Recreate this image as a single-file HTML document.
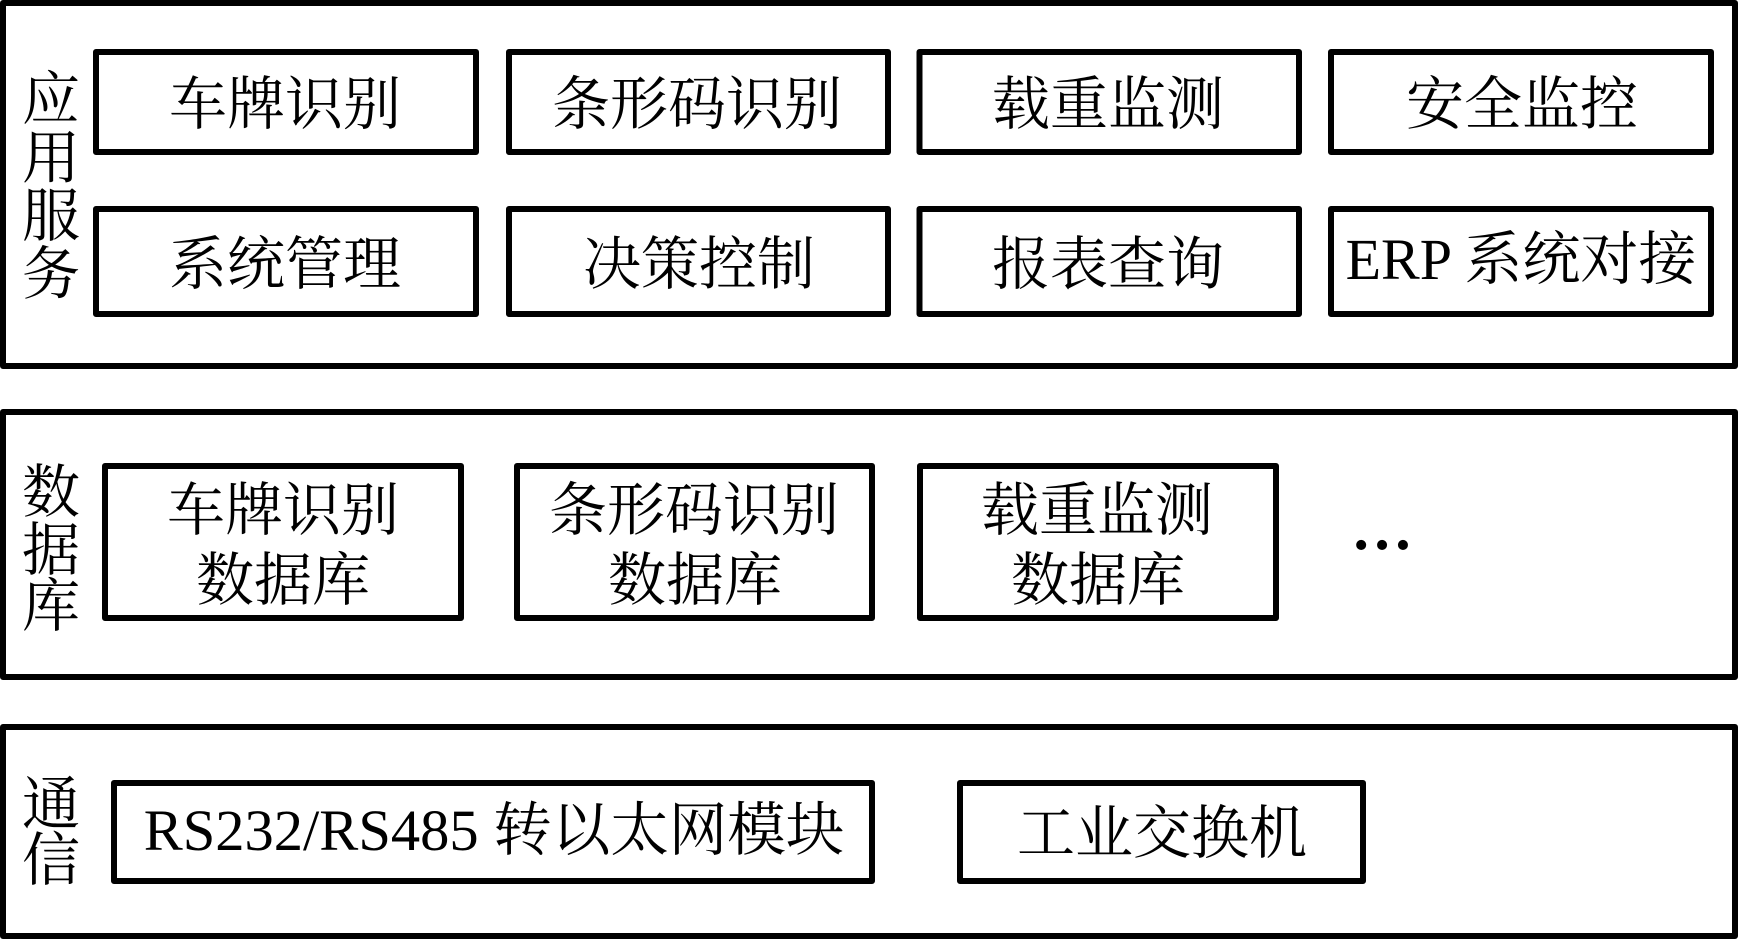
<!DOCTYPE html>
<html><head><meta charset="utf-8">
<style>
html,body{margin:0;padding:0;background:#fff}
svg{display:block}
text{font-family:"Liberation Serif","Noto Serif CJK SC",serif;font-size:58px;fill:#000;text-anchor:middle}
rect{fill:#fff;stroke:#000;stroke-width:6;stroke-linejoin:round}
</style></head><body>
<svg width="1738" height="939" viewBox="0 0 1738 939" xmlns="http://www.w3.org/2000/svg">
<rect x="3" y="3" width="1732" height="363"/>
<rect x="3" y="412" width="1732" height="265"/>
<rect x="3" y="727" width="1732" height="209"/>

<rect x="96" y="52" width="380" height="100"/>
<rect x="509" y="52" width="379" height="100"/>
<rect x="919.5" y="52" width="379.5" height="100"/>
<rect x="1331" y="52" width="380" height="100"/>
<rect x="96" y="209" width="380" height="105"/>
<rect x="509" y="209" width="379" height="105"/>
<rect x="919.5" y="209" width="379.5" height="105"/>
<rect x="1331" y="209" width="380" height="105"/>

<rect x="105" y="466" width="356" height="152"/>
<rect x="517" y="466" width="355" height="152"/>
<rect x="920" y="466" width="356" height="152"/>

<rect x="114" y="783" width="758" height="98"/>
<rect x="960" y="783" width="403" height="98"/>

<text x="51" y="119">应</text>
<text x="51" y="178">用</text>
<text x="51" y="236">服</text>
<text x="51" y="294">务</text>
<text x="51" y="512">数</text>
<text x="51" y="570">据</text>
<text x="51" y="626">库</text>
<text x="51" y="824">通</text>
<text x="51" y="880">信</text>

<text x="285" y="124">车牌识别</text>
<text x="697" y="124">条形码识别</text>
<text x="1108" y="124">载重监测</text>
<text x="1522" y="124">安全监控</text>
<text x="285" y="284">系统管理</text>
<text x="699" y="284">决策控制</text>
<text x="1108" y="284">报表查询</text>
<text x="1521" y="279">ERP 系统对接</text>

<text x="283" y="530">车牌识别</text>
<text x="283" y="600">数据库</text>
<text x="694" y="530">条形码识别</text>
<text x="695" y="600">数据库</text>
<text x="1097" y="530">载重监测</text>
<text x="1098" y="600">数据库</text>
<text x="1382" y="549" style="font-size:62px;font-weight:bold">…</text>

<text x="494" y="850" style="font-size:58.5px">RS232/RS485 转以太网模块</text>
<text x="1162" y="853">工业交换机</text>
</svg>
</body></html>
